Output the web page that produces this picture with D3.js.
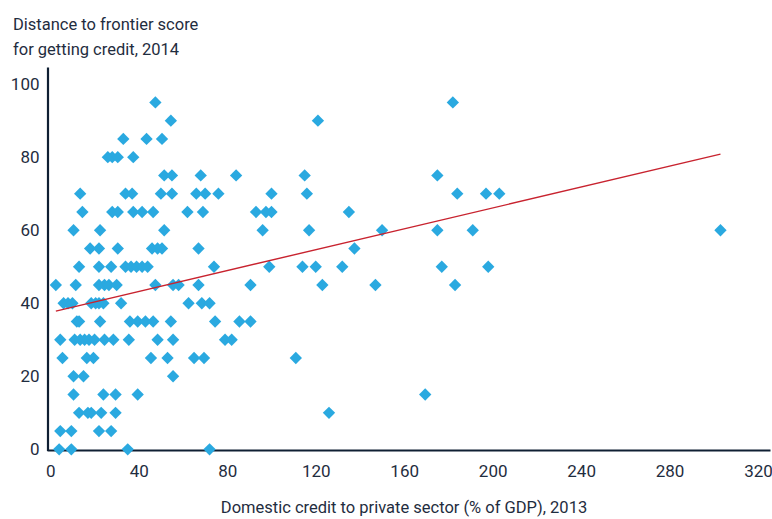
<!DOCTYPE html>
<html>
<head>
<meta charset="utf-8">
<script src="https://cdn.jsdelivr.net/npm/d3@7"></script>
<style>
  html, body { margin: 0; padding: 0; background: #ffffff; }
  svg { display: block; }
  text { font-family: Roboto, "Noto Sans", sans-serif; fill: #1f2d40; }
</style>
</head>
<body>
<svg id="chart" width="772" height="519"></svg>
<script>
// ---- Data ----
// Domestic credit to private sector (% of GDP), 2013
const credit = [
  47.5, 182,
  54.5, 121,
  33, 43.5, 50.5,
  26, 28, 30.5, 37.5,
  51.5, 55, 68, 84, 115, 175,
  13.5, 34, 37, 50, 55, 66, 70, 76, 100, 116, 184, 197, 203,
  14.5, 28, 30.5, 37.5, 41.5, 46.5, 62, 69, 93, 97.5, 100, 135,
  10.5, 22.5, 51.5, 96, 117, 150, 175, 191, 303,
  18, 22, 30.5, 46, 48.5, 50.5, 67, 137.5,
  13, 22, 27.5, 34, 36.5, 39, 41.5, 44, 74, 99, 114, 120, 132, 177, 198,
  2.5, 11.5, 22, 24.5, 26.5, 30, 47.5, 55.5, 58, 67, 90.5, 123, 147, 183,
  6, 8, 10, 18.5, 20.5, 22, 24, 32, 62.5, 68.5, 72,
  12, 13, 22.5, 36, 39.5, 43, 46.5, 54.5, 74.5, 85.5, 90.5,
  4.5, 11, 13.5, 15.5, 17.5, 20, 24.5, 28.5, 35.5, 48.5, 55.5, 79, 82,
  5.5, 16.5, 19.5, 45.5, 53, 65, 69.5, 111,
  10.5, 15, 55.5,
  10.5, 24, 29.5, 39.5, 169.5,
  13, 17, 18.5, 23, 29.5, 126,
  4.5, 9.5, 22, 27.5,
  4, 9.5, 35, 72
];
// Distance to frontier score for getting credit, 2014
const score = [
  95, 95,
  90, 90,
  85, 85, 85,
  80, 80, 80, 80,
  75, 75, 75, 75, 75, 75,
  70, 70, 70, 70, 70, 70, 70, 70, 70, 70, 70, 70, 70,
  65, 65, 65, 65, 65, 65, 65, 65, 65, 65, 65, 65,
  60, 60, 60, 60, 60, 60, 60, 60, 60,
  55, 55, 55, 55, 55, 55, 55, 55,
  50, 50, 50, 50, 50, 50, 50, 50, 50, 50, 50, 50, 50, 50, 50,
  45, 45, 45, 45, 45, 45, 45, 45, 45, 45, 45, 45, 45, 45,
  40, 40, 40, 40, 40, 40, 40, 40, 40, 40, 40,
  35, 35, 35, 35, 35, 35, 35, 35, 35, 35, 35,
  30, 30, 30, 30, 30, 30, 30, 30, 30, 30, 30, 30, 30,
  25, 25, 25, 25, 25, 25, 25, 25,
  20, 20, 20,
  15, 15, 15, 15, 15,
  10, 10, 10, 10, 10, 10,
  5, 5, 5, 5,
  0, 0, 0, 0
];
// Linear trend (intercept, slope)
const trendIntercept = 37.5;
const trendSlope = 0.143;

const xTicks = [0, 40, 80, 120, 160, 200, 240, 280, 320];
const yTicks = [0, 20, 40, 60, 80, 100];
const titleLines = ["Distance to frontier score", "for getting credit, 2014"];
const xTitle = "Domestic credit to private sector (% of GDP), 2013";

// ---- Layout ----
const svg = d3.select("#chart");
const C = { blue: "#2aa9e0", red: "#c8232f", axis: "#0f1f33" };

const x = d3.scaleLinear().domain([-1.5, 325.4]).range([47, 770]);
const y = d3.scaleLinear().domain([-0.3, 104.7]).range([450.4, 67]);

const points = credit.map((c, i) => ({ c, s: score[i] }));

// Axes
const xAxis = svg.append("g")
  .attr("transform", `translate(0,${y(-0.3) - 0.4})`)
  .call(d3.axisBottom(x).tickValues(xTicks).tickSize(0).tickPadding(15).tickFormat(d3.format("d")));
const yAxis = svg.append("g")
  .attr("transform", `translate(${x(-1.5) + 0.5},0)`)
  .call(d3.axisLeft(y).tickValues(yTicks).tickSize(0).tickPadding(8).tickFormat(d3.format("d")));

[xAxis, yAxis].forEach(g => {
  g.select(".domain").attr("stroke", C.axis).attr("stroke-width", 2.2);
  g.selectAll("text").attr("font-size", 17).attr("fill", "#1f2d40")
    .attr("font-family", "Roboto, 'Noto Sans', sans-serif");
});

// Points (diamonds)
const diamond = d3.symbol().type(d3.symbolSquare).size(76);
svg.append("g").selectAll("path")
  .data(points)
  .join("path")
  .attr("d", diamond)
  .attr("transform", d => `translate(${x(d.c)},${y(d.s)}) rotate(45)`)
  .attr("fill", C.blue);

// Trend line
const [xmin, xmax] = d3.extent(credit);
svg.append("line")
  .attr("x1", x(xmin)).attr("y1", y(trendIntercept + trendSlope * xmin))
  .attr("x2", x(xmax)).attr("y2", y(trendIntercept + trendSlope * xmax))
  .attr("stroke", C.red).attr("stroke-width", 1.4);

// Titles
svg.append("text")
  .attr("x", 13).attr("y", 30)
  .attr("font-size", 16.5)
  .selectAll("tspan")
  .data(titleLines)
  .join("tspan")
  .attr("x", 13)
  .attr("dy", (d, i) => i === 0 ? 0 : 25)
  .text(d => d);

svg.append("text")
  .attr("x", 404).attr("y", 513)
  .attr("text-anchor", "middle")
  .attr("font-size", 16.5)
  .text(xTitle);
</script>
</body>
</html>
